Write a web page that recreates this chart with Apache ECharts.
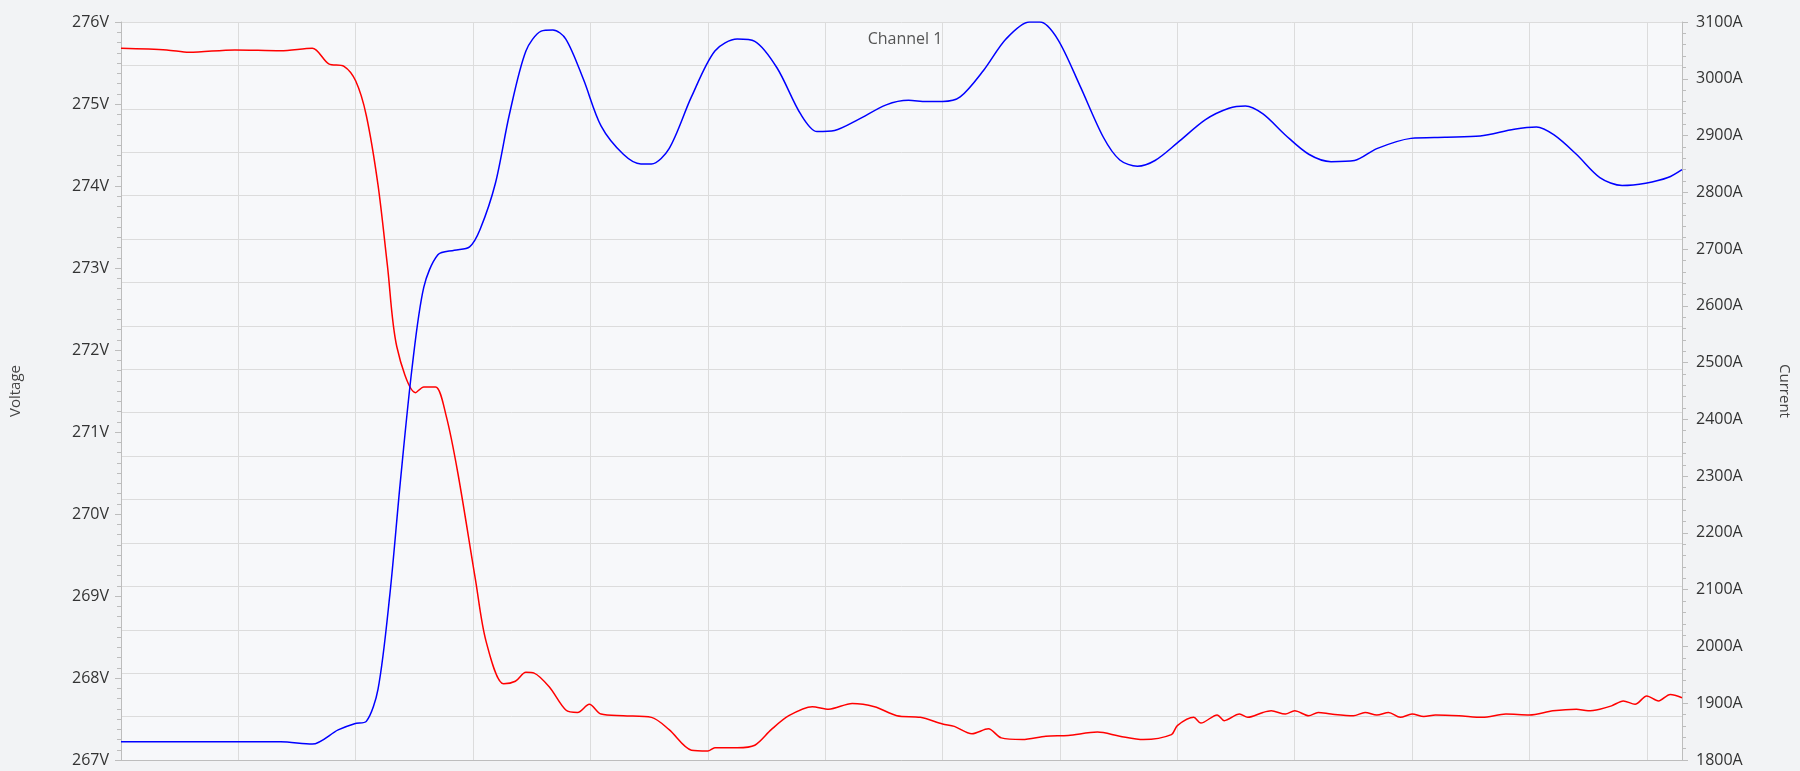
<!DOCTYPE html>
<html>
<head>
<meta charset="utf-8">
<script src="https://cdn.jsdelivr.net/npm/echarts@6/dist/echarts.min.js"></script>
<style>
html,body{margin:0;padding:0;background:#f2f3f5;}
#chart{width:1800px;height:771px;}
</style>
</head>
<body>
<div id="chart"></div>
<script>
// x in grid units (one vertical gridline per unit)
var voltX = [0,0.39,0.58,0.97,1.36,1.63,1.77,1.9,2.0,2.09,2.19,2.27,2.35,2.51,2.58,2.68,2.77,2.87,3.02,3.11,3.26,3.36,3.45,3.52,3.65,3.79,3.89,3.99,4.09,4.28,4.52,4.67,4.86,5.0,5.06,5.25,5.4,5.54,5.69,5.89,6.03,6.23,6.42,6.61,6.81,7.0,7.1,7.25,7.39,7.5,7.68,7.88,8.07,8.32,8.51,8.71,8.95,9.0,9.14,9.2,9.34,9.4,9.53,9.6,9.73,9.8,9.92,10.0,10.12,10.2,10.31,10.5,10.6,10.7,10.8,10.9,11.0,11.1,11.2,11.4,11.6,11.8,12.0,12.2,12.4,12.5,12.6,12.7,12.8,12.9,13.0,13.1,13.2,13.3];
var voltY = [275.68,275.66,275.63,275.66,275.65,275.68,275.49,275.46,275.28,274.86,274.01,273.03,272.04,271.48,271.55,271.55,271.2,270.5,269.2,268.45,267.93,267.96,268.07,268.06,267.89,267.61,267.58,267.68,267.56,267.54,267.52,267.37,267.12,267.11,267.15,267.15,267.18,267.37,267.54,267.65,267.62,267.69,267.65,267.54,267.52,267.44,267.41,267.32,267.38,267.27,267.25,267.29,267.3,267.34,267.29,267.25,267.31,267.42,267.52,267.45,267.55,267.48,267.56,267.52,267.58,267.6,267.56,267.6,267.54,267.58,267.56,267.54,267.58,267.55,267.58,267.52,267.56,267.53,267.55,267.54,267.52,267.56,267.55,267.6,267.62,267.6,267.62,267.66,267.72,267.68,267.78,267.72,267.8,267.76];
var currX = [0,0.97,1.36,1.63,1.85,1.99,2.09,2.19,2.29,2.38,2.48,2.58,2.7,2.84,2.97,3.06,3.19,3.31,3.45,3.58,3.68,3.79,3.94,4.09,4.28,4.43,4.52,4.67,4.86,5.06,5.25,5.4,5.59,5.79,5.93,6.08,6.28,6.52,6.71,6.86,7.0,7.15,7.35,7.54,7.74,7.83,7.98,8.17,8.37,8.51,8.66,8.81,9.0,9.24,9.44,9.58,9.73,9.92,10.12,10.31,10.51,10.7,10.99,11.28,11.58,11.87,12.06,12.21,12.4,12.6,12.79,12.99,13.18,13.3];
var currY = [1832,1832,1832,1828,1853,1864,1868,1925,2090,2290,2491,2633,2690,2698,2704,2735,2816,2938,3049,3084,3086,3070,2999,2917,2867,2850,2850,2877,2968,3049,3070,3066,3019,2938,2907,2909,2928,2954,2962,2960,2960,2968,3015,3070,3100,3100,3070,2988,2897,2857,2846,2856,2887,2928,2948,2952,2938,2901,2867,2854,2856,2877,2895,2897,2899,2911,2915,2901,2867,2826,2812,2816,2826,2840];
var voltTicks = [267,276,1];
var currTicks = [1800,3100,100];

function pairs(xs, ys){
	var out = [];
	for(var i = 0; i < xs.length; i++){
		out.push([xs[i], ys[i]]);
	}
	return out;
}

var myChart = echarts.init(document.getElementById('chart'));
var axisGray = '#bdbdbd';
var option = {
	backgroundColor: '#f2f3f5',
	animation: false,
	title: {
		text: 'Channel 1',
		left: 900, top: 26, textAlign: 'center',
		textStyle: {fontFamily: 'Open Sans', fontSize: 16, fontWeight: 'normal', color: '#555'}
	},
	grid: {left: 115, right: 114, top: 22, bottom: 11, show: true, backgroundColor: '#f7f8fa', borderWidth: 0},
	xAxis: {
		type: 'value', min: 0, max: 13.3, interval: 1,
		axisLabel: {show: false}, axisTick: {show: false},
		axisLine: {show: true, lineStyle: {color: axisGray}},
		splitLine: {show: true, lineStyle: {color: '#dcdcdc'}}
	},
	yAxis: [
		{
			type: 'value', position: 'left', min: voltTicks[0], max: voltTicks[1], interval: voltTicks[2],
			name: 'Voltage', nameLocation: 'middle', nameGap: 98, nameRotate: 90,
			nameTextStyle: {fontFamily: 'Open Sans', fontSize: 15, color: '#444'},
			axisLabel: {formatter: '{value}V', fontFamily: 'Open Sans', fontSize: 16, color: '#333', margin: 12},
			axisLine: {show: true, lineStyle: {color: axisGray}},
			axisTick: {show: true, length: 6, lineStyle: {color: axisGray}},
			minorTick: {show: true, splitNumber: 8, length: 4, lineStyle: {color: axisGray}},
			splitLine: {show: false}
		},
		{
			type: 'value', position: 'right', min: currTicks[0], max: currTicks[1], interval: currTicks[2],
			name: 'Current', nameLocation: 'middle', nameGap: 95, nameRotate: -90,
			nameTextStyle: {fontFamily: 'Open Sans', fontSize: 15, color: '#444'},
			axisLabel: {formatter: function(v){ return v + 'A'; }, fontFamily: 'Open Sans', fontSize: 16, color: '#333', margin: 14},
			axisLine: {show: true, lineStyle: {color: axisGray}},
			axisTick: {show: true, length: 6, lineStyle: {color: axisGray}},
			minorTick: {show: true, splitNumber: 5, length: 4, lineStyle: {color: axisGray}},
			splitLine: {show: false}
		},
		{
			type: 'value', min: 0, max: 17, interval: 1,
			axisLabel: {show: false}, axisLine: {show: false}, axisTick: {show: false},
			splitLine: {show: true, lineStyle: {color: '#dcdcdc'}}
		}
	],
	series: [
		{
			name: 'Voltage', type: 'line', yAxisIndex: 0, smooth: 0.3, symbol: 'none',
			lineStyle: {color: '#ff0000', width: 1.5},
			data: pairs(voltX, voltY)
		},
		{
			name: 'Current', type: 'line', yAxisIndex: 1, smooth: 0.3, symbol: 'none',
			lineStyle: {color: '#0000ff', width: 1.5},
			data: pairs(currX, currY)
		}
	]
};
myChart.setOption(option);
</script>
</body>
</html>
